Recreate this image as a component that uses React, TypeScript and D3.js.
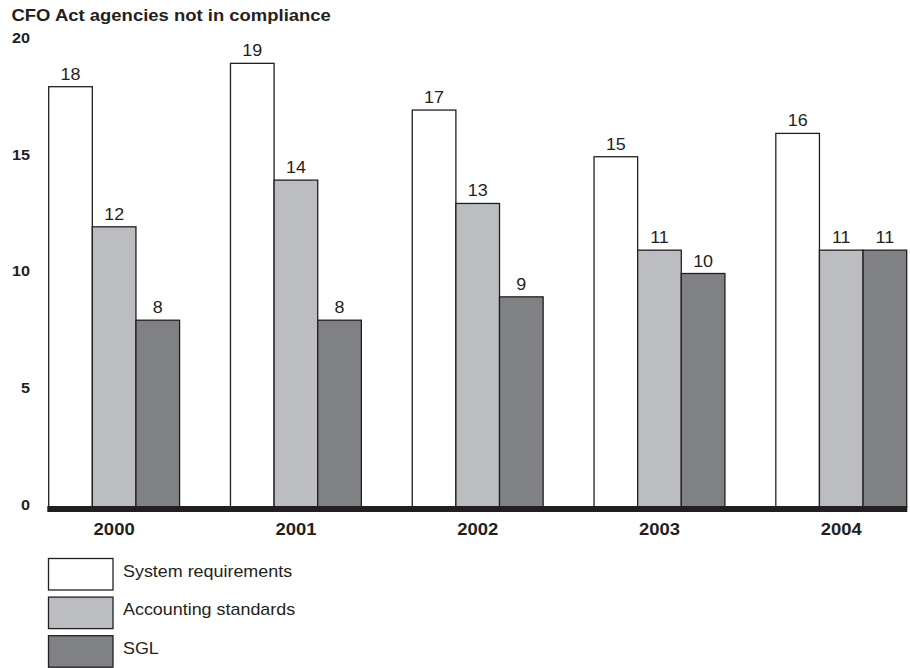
import React from "react";
import * as d3 from "d3";

const years = ["2000", "2001", "2002", "2003", "2004"];
const seriesNames = ["System requirements", "Accounting standards", "SGL"];
const systemRequirements = [18, 19, 17, 15, 16];
const accountingStandards = [12, 14, 13, 11, 11];
const sgl = [8, 8, 9, 10, 11];
const yTicks = [0, 5, 10, 15, 20];
const title = "CFO Act agencies not in compliance";

const colors = ["#ffffff", "#bcbdc1", "#808184"];
const ink = "#231f20";
const FONT = "'Liberation Sans', Arial, Helvetica, sans-serif";
const SX = 1.12;

function T({ x, y, size, bold, anchor, children }: any) {
  return (
    <text
      transform={`translate(${x},${y}) scale(${SX},1)`}
      fontFamily={FONT}
      fontSize={size}
      fontWeight={bold ? "bold" : "normal"}
      textAnchor={anchor || "start"}
      fill={ink}
    >
      {children}
    </text>
  );
}

export default function App() {
  const W = 910;
  const H = 668;
  const series = [systemRequirements, accountingStandards, sgl];
  const x0 = d3.scaleBand<string>().domain(years).range([48.7, 906.7]).paddingInner(0.28).paddingOuter(0);
  const x1 = d3.scaleBand<number>().domain([0, 1, 2]).range([0, x0.bandwidth()]);
  const y = d3.scaleLinear().domain([0, 20]).range([507, 40]);

  return (
    <svg width={W} height={H} style={{ position: "absolute", left: 0, top: 0, background: "#fff" }}>
      <T x={11.5} y={21} size={16.5} bold>{title}</T>
      {yTicks.map((t) => (
        <T key={t} x={30} y={y(t) + 2.8} size={14.5} bold anchor="end">{t}</T>
      ))}
      {years.map((yr, i) => (
        <g key={yr}>
          {series.map((s, j) => {
            const bx = (x0(yr) as number) + (x1(j) as number);
            const bw = x1.bandwidth();
            return (
              <g key={j}>
                <rect x={bx} y={y(s[i])} width={bw} height={y(0) - y(s[i])} fill={colors[j]} stroke={ink} strokeWidth={1.3} />
                <T x={bx + bw / 2} y={y(s[i]) - 7} size={16} anchor="middle">{s[i]}</T>
              </g>
            );
          })}
          <T x={(x0(yr) as number) + x0.bandwidth() / 2} y={535} size={16.5} bold anchor="middle">{yr}</T>
        </g>
      ))}
      <rect x={47.3} y={506} width={860} height={6} fill={ink} />
      {seriesNames.map((n, j) => (
        <g key={n}>
          <rect x={48.5} y={558.5 + j * 38.6} width={64.5} height={31.5} fill={colors[j]} stroke={ink} strokeWidth={1.3} />
          <T x={123} y={558.5 + j * 38.6 + 18.3} size={16}>{n}</T>
        </g>
      ))}
    </svg>
  );
}
